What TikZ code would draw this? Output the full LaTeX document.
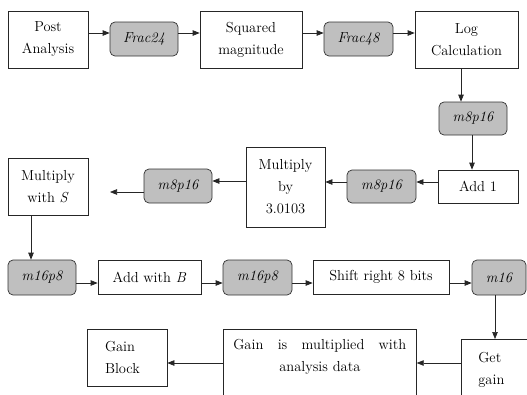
\documentclass[tikz,border=0pt]{standalone}
\usetikzlibrary{arrows.meta}
\usetikzlibrary{positioning}

\tikzset{
  blk/.style={draw=black!85, line width=0.7pt, fill=white, align=center, inner sep=2pt,
    font=\fontsize{14.5}{22}\selectfont},
  fmt/.style={draw=black!80, line width=0.7pt, fill=gray!50, rounded corners=5pt, inner sep=1pt,
    minimum width=68pt, minimum height=34pt, font=\fontsize{14.5}{22}\selectfont\itshape},
  arr/.style={draw=black!85, line width=0.7pt, -{Triangle[length=7pt,width=5.5pt]}}
}

\begin{document}
\begin{tikzpicture}[x=1pt,y=-1pt]
\useasboundingbox (0,0) rectangle (527,394);
\clip (0,0) rectangle (527,394);

% first row
\node[blk,minimum width=80pt,minimum height=57pt] (post) at (48,39.5) {Post\\Analysis};
\node[fmt] (f24) at (144,39) {Frac24};
\node[blk,minimum width=102pt,minimum height=57pt] (sqr) at (251,39.5) {Squared\\magnitude};
\node[fmt,minimum width=69pt] (f48) at (358.5,39) {Frac48};
\node[blk,minimum width=103pt,minimum height=57pt] (logc) at (466.5,39.5) {Log\\Calculation};

\draw[arr] (post.east |- 0,33) -- (f24.west |- 0,33);
\draw[arr] (f24.east |- 0,33) -- (sqr.west |- 0,33);
\draw[arr] (sqr.east |- 0,33) -- (f48.west |- 0,33);
\draw[arr] (f48.east |- 0,33) -- (logc.west |- 0,33);

% going down, then back to the left
\node[fmt,minimum height=33pt] (m8a) at (473,118.5) {m8p16};
\node[blk,minimum width=80pt,minimum height=33pt] (add1) at (478,186.5) {Add 1};
\node[fmt,minimum width=69pt,minimum height=33pt] (m8b) at (381.5,186.5) {m8p16};
\node[blk,minimum width=79pt,minimum height=80pt] (mulby) at (285.5,187) {Multiply\\by\\3.0103};
\node[fmt] (m8c) at (178,186) {m8p16};
\node[blk,minimum width=80pt,minimum height=57pt] (muls) at (48,186.5) {Multiply\\with \textit{S}};
\coordinate (m8end) at (110,192);

\draw[arr] (logc.south -| 461,0) -- (m8a.north -| 461,0);
\draw[arr] (m8a.south -| 472,0) -- (add1.north -| 472,0);
\draw[arr] (add1.west |- 0,182) -- (m8b.east |- 0,182);
\draw[arr] (m8b.west |- 0,182) -- (mulby.east |- 0,182);
\draw[arr] (mulby.west |- 0,181) -- (m8c.east |- 0,181);
\draw[arr] (m8c.west |- m8end) -- (m8end);

% third row
\node[fmt,minimum height=35pt] (m16a) at (42,277.5) {m16p8};
\node[blk,minimum width=103pt,minimum height=34pt] (addb) at (149.5,277) {Add with \textit{B}};
\node[fmt,minimum width=69pt,minimum height=35pt] (m16b) at (257.5,277.5) {m16p8};
\node[blk,minimum width=136pt,minimum height=34pt] (shift) at (381,277) {Shift right 8 bits};
\node[fmt,minimum width=54pt,minimum height=35pt] (m16) at (499,277.5) {m16};

\draw[arr] (muls.south -| 31,0) -- (m16a.north -| 31,0);
\draw[arr] (m16a.east |- 0,283) -- (addb.west |- 0,283);
\draw[arr] (addb.east |- 0,283) -- (m16b.west |- 0,283);
\draw[arr] (m16b.east |- 0,283) -- (shift.west |- 0,283);
\draw[arr] (shift.east |- 0,283) -- (m16.west |- 0,283);

% last row, cut at the bottom edge
\node[blk,anchor=north west,align=left,text width=60pt,inner xsep=17pt,minimum height=61pt] (getg) at (461,339) {Get\\gain};
\node[blk,anchor=north west,text width=173pt,inner xsep=10pt,inner ysep=10pt] (gmul) at (223,329)
  {\hbox to 173pt{Gain\hfill is\hfill multiplied\hfill with}\\analysis data\\\rule{0pt}{20pt}};
\node[blk,align=left,text width=44pt,inner xsep=18pt,minimum height=57pt] (gblk) at (127,357.5) {Gain\\Block};

\draw[arr] (m16.south -| 495,0) -- (getg.north -| 495,0);
\draw[arr] (getg.west |- 0,363) -- (gmul.east |- 0,363);
\draw[arr] (gmul.west |- 0,363) -- (gblk.east |- 0,363);

\end{tikzpicture}
\end{document}
